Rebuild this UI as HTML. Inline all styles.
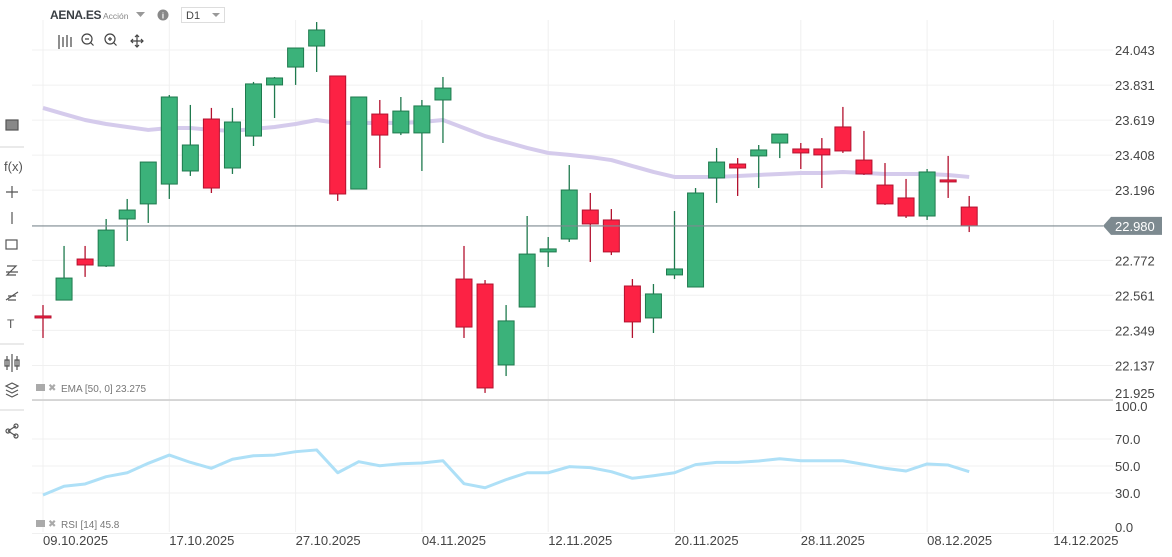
<!DOCTYPE html>
<html><head><meta charset="utf-8"><style>
body{margin:0;width:1172px;height:557px;overflow:hidden;background:#fff;font-family:"Liberation Sans",sans-serif;}
svg{position:absolute;left:0;top:0}
</style></head><body>
<svg id="chart" width="1172" height="557">
<g id="grid"></g>
<g id="ema"></g>
<g id="candles"></g>
<g id="rsi"></g>
<g id="axes"></g>
<g>
<text x="50" y="19" font-size="12" font-weight="bold" fill="#3a3f44" letter-spacing="-0.3">AENA.ES</text>
<text x="103" y="19" font-size="8.5" fill="#888">Acción</text>
<path d="M136 12 L145 12 L140.5 17 Z" fill="#999"/>
<circle cx="163" cy="15" r="5.5" fill="#888"/>
<text x="163" y="18.5" font-size="8" font-weight="bold" fill="#fff" text-anchor="middle">i</text>
<rect x="181.5" y="7.5" width="43" height="15" fill="#fff" stroke="#ddd"/>
<text x="186" y="19" font-size="11" fill="#444">D1</text>
<path d="M212 13 L220 13 L216 17 Z" fill="#999"/>
<g stroke="#444" fill="none" stroke-width="1.2">
<path d="M59 35v14M63 37v10M67 35v12M71 37v10"/>
<circle cx="87" cy="39" r="5"/><path d="M85 39h4M90.5 42.5l3 3"/>
<circle cx="110" cy="39" r="5"/><path d="M108 39h4M110 37v4M113.5 42.5l3 3"/>
<path d="M131 41h12M137 35v12M133 39l-2 2 2 2M141 39l2 2-2 2M135 37l2-2 2 2M135 45l2 2 2-2"/>
</g>
</g>
<g fill="none" stroke="#555" stroke-width="1.2">
<rect x="6" y="120" width="12" height="10" fill="#888"/>
<line x1="0" y1="147" x2="24" y2="147" stroke="#ddd"/>
<text x="4" y="171" font-size="13" fill="#555" stroke="none">f(x)</text>
<path d="M6 192h12M12 186v12"/>
<path d="M12 212v12"/>
<rect x="6" y="240" width="11" height="9"/>
<path d="M7 266h9l-9 9h9M6 272h12"/>
<path d="M6 300l12-8M8 296h8M8 300h8"/>
<text x="7" y="328" font-size="12" fill="#555" stroke="none">T</text>
<line x1="0" y1="344" x2="24" y2="344" stroke="#ddd"/>
<path d="M7 356v14M12 354v18M17 356v14M5 360h4v6h-4zM15 360h4v6h-4z"/>
<path d="M6 386l6-3 6 3-6 3zM6 390l6 3 6-3M6 394l6 3 6-3"/>
<line x1="0" y1="410" x2="24" y2="410" stroke="#ddd"/>
<path d="M8 431l8-5M8 431l8 5"/>
<circle cx="8" cy="431" r="2"/><circle cx="16" cy="426" r="2"/><circle cx="16" cy="436" r="2"/>
</g>
<g>
<rect x="36" y="384" width="9" height="7" fill="#aaa"/>
<text x="48" y="391" font-size="10" fill="#aaa">✖</text>
<text x="61" y="392" font-size="10" fill="#777">EMA [50, 0] 23.275</text>
</g>
<g>
<rect x="36" y="520" width="9" height="7" fill="#aaa"/>
<text x="48" y="527" font-size="10" fill="#aaa">✖</text>
<text x="61" y="528" font-size="10" fill="#777">RSI [14] 45.8</text>
</g>
</svg>
<script>
const dates=["09.10.2025","17.10.2025","27.10.2025","04.11.2025","12.11.2025","20.11.2025","28.11.2025","08.12.2025","14.12.2025"];
const dateIdx=[0,6,12,18,24,30,36,42,48];
const priceTicks=[24.043,23.831,23.619,23.408,23.196,22.772,22.561,22.349,22.137,21.925];
const rsiTicks=[100,70,50,30,0];
const opens=[22.436,22.532,22.780,22.738,23.022,23.113,23.233,23.312,23.626,23.330,23.523,23.832,23.940,24.067,23.886,23.203,23.656,23.542,23.542,23.741,22.659,22.629,22.140,22.490,22.823,22.901,23.076,23.016,22.617,22.424,22.684,22.611,23.270,23.354,23.403,23.481,23.445,23.445,23.578,23.378,23.227,23.149,23.040,23.258,23.094];
const highs=[22.502,22.859,22.859,23.022,23.143,23.366,23.771,23.711,23.693,23.693,23.850,23.880,24.055,24.212,23.886,23.759,23.741,23.759,23.741,23.880,22.859,22.653,22.502,23.040,22.913,23.348,23.179,23.082,22.659,22.629,23.070,23.209,23.451,23.390,23.469,23.535,23.481,23.511,23.699,23.554,23.360,23.264,23.324,23.403,23.161];
const lows=[22.303,22.532,22.672,22.732,22.889,22.998,23.143,23.282,23.179,23.294,23.463,23.632,23.832,23.910,23.131,23.203,23.330,23.529,23.312,23.481,22.303,21.971,22.073,22.490,22.732,22.883,22.762,22.804,22.303,22.333,22.659,22.611,23.119,23.161,23.209,23.390,23.324,23.209,23.421,23.288,23.107,23.028,23.016,23.149,22.943];
const closes=[22.424,22.665,22.744,22.955,23.076,23.366,23.759,23.469,23.209,23.608,23.838,23.874,24.055,24.164,23.173,23.759,23.529,23.674,23.705,23.813,22.369,22.001,22.406,22.810,22.841,23.197,22.992,22.823,22.400,22.569,22.720,23.179,23.366,23.330,23.439,23.535,23.421,23.409,23.433,23.294,23.113,23.040,23.306,23.246,22.980];
const emaVals=[23.693,23.656,23.620,23.596,23.578,23.560,23.572,23.572,23.560,23.554,23.566,23.578,23.596,23.620,23.602,23.602,23.602,23.602,23.608,23.620,23.572,23.523,23.487,23.451,23.421,23.409,23.396,23.378,23.342,23.306,23.276,23.276,23.276,23.282,23.288,23.294,23.300,23.300,23.306,23.300,23.294,23.294,23.294,23.288,23.276];
const rsiVals=[28.5,35.0,36.7,42.1,45.0,52.0,58.1,52.7,48.3,55.0,57.6,58.1,60.6,61.9,45.0,53.2,50.2,51.7,52.2,53.9,36.9,33.9,39.9,45.0,45.0,49.5,48.8,45.8,40.9,42.8,45.0,51.0,52.7,52.7,53.7,55.4,53.9,53.9,53.9,51.2,48.3,46.3,51.5,50.7,45.8];
const lastPrice=22.980;

const NS="http://www.w3.org/2000/svg";
const X=i=>43+i*21.05;
const Y=p=>50+(24.043-p)*165.5;
const R=v=>466+(50-v)*1.35;
function mk(tag,attrs,parent){const e=document.createElementNS(NS,tag);for(const k in attrs)e.setAttribute(k,attrs[k]);parent.appendChild(e);return e;}
const grid=document.getElementById('grid'),axes=document.getElementById('axes');
dateIdx.forEach((d,k)=>{
  const l=mk('line',{x1:X(d),x2:X(d),y1:20,y2:532,stroke:'#f0f0f0'},grid);
  
  
  const t=mk('text',{x:X(d),y:545,'font-size':13,fill:'#444'},axes);
  t.textContent=dates[k];
  
  
});
priceTicks.forEach(p=>{
  const l=mk('line',{x1:32,x2:1113,y1:Y(p),y2:Y(p),stroke:'#f0f0f0'},grid);
  
  
  const t=mk('text',{x:1115,y:Math.min(Y(p)+5,398),'font-size':13,fill:'#444'},axes);
  t.textContent=p.toFixed(3);
  
  
});
rsiTicks.forEach(v=>{
  if(v<100){const l=mk('line',{x1:32,x2:1113,y1:R(v),y2:R(v),stroke:'#f0f0f0'},grid);
  
  }
  const ty=v===100?411:(v===0?532:R(v)+5);
  const t=mk('text',{x:1115,y:ty,'font-size':13,fill:'#444'},axes);
  t.textContent=v.toFixed(1);
  
  
});
const sep=mk('line',{x1:32,x2:1113,y1:400,y2:400,stroke:'#ccc','stroke-width':1.5},axes);


const lp=mk('line',{x1:32,x2:1103,y1:Y(lastPrice),y2:Y(lastPrice),stroke:'#7d8a90','stroke-width':1.2},axes);


const yl=Y(lastPrice);
const tag=mk('path',{d:`M1103 ${yl} L1111 ${yl-9} L1162 ${yl-9} L1162 ${yl+9} L1111 ${yl+9} Z`,fill:'#7d8a90'},axes);


const lt=mk('text',{x:1115,y:yl+5,'font-size':13,fill:'#fff'},axes);
lt.textContent=lastPrice.toFixed(3);


const ema=document.getElementById('ema');
const ep=mk('polyline',{points:emaVals.map((v,i)=>X(i)+','+Y(v)).join(' '),fill:'none',stroke:'#d5cbec','stroke-width':4,'stroke-linejoin':'round'},ema);


const cg=document.getElementById('candles');
opens.forEach((o,i)=>{
  const c=closes[i],up=c>=o;
  const fill=up?'#3bb27a':'#fc2244',st=up?'#1f7a4e':'#b3122f';
  const g=mk('g',{},cg);
  
  
  mk('line',{x1:X(i),x2:X(i),y1:Y(highs[i]),y2:Y(lows[i]),stroke:st,'stroke-width':1.3},g);
  const top=Y(Math.max(o,c)),bot=Y(Math.min(o,c));
  mk('rect',{x:X(i)-8,y:top,width:16,height:Math.max(bot-top,2),fill:fill,stroke:st,'stroke-width':1},g);
});
const rg=document.getElementById('rsi');
const rp=mk('polyline',{points:rsiVals.map((v,i)=>X(i)+','+R(v)).join(' '),fill:'none',stroke:'#aee0f7','stroke-width':3,'stroke-linejoin':'round'},rg);


</script>
</body></html>
